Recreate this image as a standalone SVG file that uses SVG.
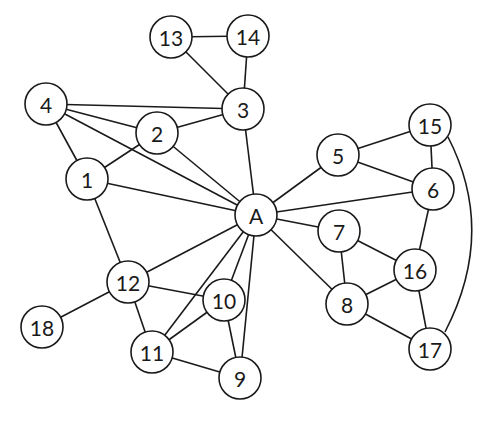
<svg xmlns="http://www.w3.org/2000/svg" width="485" height="425" viewBox="0 0 485 425">
<style>
.e{stroke:#1a1a1a;stroke-width:1.6;fill:none}
.n circle{fill:#fff;stroke:#1a1a1a;stroke-width:1.6}
.n text{font-family:Lato,"Open Sans",sans-serif;font-size:21px;fill:#1a1a1a;text-anchor:middle;dominant-baseline:central}
</style>
<rect width="485" height="425" fill="#fff"/>
<g id="connectors">
<line class="e" x1="171" y1="37" x2="248" y2="36"/>
<line class="e" x1="171" y1="37" x2="243" y2="109"/>
<line class="e" x1="248" y1="36" x2="243" y2="109"/>
<line class="e" x1="46" y1="104" x2="243" y2="109"/>
<line class="e" x1="46" y1="104" x2="157" y2="133"/>
<line class="e" x1="46" y1="104" x2="256" y2="215"/>
<line class="e" x1="46" y1="104" x2="87" y2="179"/>
<line class="e" x1="157" y1="133" x2="243" y2="109"/>
<line class="e" x1="157" y1="133" x2="87" y2="179"/>
<line class="e" x1="157" y1="133" x2="256" y2="215"/>
<line class="e" x1="87" y1="179" x2="256" y2="215"/>
<line class="e" x1="87" y1="179" x2="128" y2="282"/>
<line class="e" x1="243" y1="109" x2="256" y2="215"/>
<line class="e" x1="256" y1="215" x2="338" y2="155"/>
<line class="e" x1="256" y1="215" x2="433" y2="189"/>
<line class="e" x1="256" y1="215" x2="339" y2="231"/>
<line class="e" x1="256" y1="215" x2="347" y2="304"/>
<line class="e" x1="256" y1="215" x2="128" y2="282"/>
<line class="e" x1="256" y1="215" x2="152" y2="352"/>
<line class="e" x1="256" y1="215" x2="224" y2="300"/>
<line class="e" x1="256" y1="215" x2="240" y2="378"/>
<line class="e" x1="338" y1="155" x2="430" y2="125"/>
<line class="e" x1="338" y1="155" x2="433" y2="189"/>
<line class="e" x1="430" y1="125" x2="433" y2="189"/>
<path class="e" d="M448,137 Q497,232 445,332"/>
<line class="e" x1="433" y1="189" x2="415" y2="270"/>
<line class="e" x1="339" y1="231" x2="415" y2="270"/>
<line class="e" x1="339" y1="231" x2="347" y2="304"/>
<line class="e" x1="415" y1="270" x2="347" y2="304"/>
<line class="e" x1="415" y1="270" x2="430" y2="349"/>
<line class="e" x1="347" y1="304" x2="430" y2="349"/>
<line class="e" x1="128" y1="282" x2="42" y2="327"/>
<line class="e" x1="128" y1="282" x2="224" y2="300"/>
<line class="e" x1="128" y1="282" x2="152" y2="352"/>
<line class="e" x1="224" y1="300" x2="152" y2="352"/>
<line class="e" x1="224" y1="300" x2="240" y2="378"/>
<line class="e" x1="152" y1="352" x2="240" y2="378"/>
</g>
<g id="n13" class="n"><circle cx="171" cy="37" r="21"/><text x="171" y="37">13</text></g>
<g id="n14" class="n"><circle cx="248" cy="36" r="21"/><text x="248" y="36">14</text></g>
<g id="n4" class="n"><circle cx="46" cy="104" r="21"/><text x="46" y="104">4</text></g>
<g id="n3" class="n"><circle cx="243" cy="109" r="21"/><text x="243" y="109">3</text></g>
<g id="n2" class="n"><circle cx="157" cy="133" r="21"/><text x="157" y="133">2</text></g>
<g id="n1" class="n"><circle cx="87" cy="179" r="21"/><text x="87" y="179">1</text></g>
<g id="nA" class="n"><circle cx="256" cy="215" r="21"/><text x="256" y="215">A</text></g>
<g id="n5" class="n"><circle cx="338" cy="155" r="21"/><text x="338" y="155">5</text></g>
<g id="n15" class="n"><circle cx="430" cy="125" r="21"/><text x="430" y="125">15</text></g>
<g id="n6" class="n"><circle cx="433" cy="189" r="21"/><text x="433" y="189">6</text></g>
<g id="n7" class="n"><circle cx="339" cy="231" r="21"/><text x="339" y="231">7</text></g>
<g id="n16" class="n"><circle cx="415" cy="270" r="21"/><text x="415" y="270">16</text></g>
<g id="n8" class="n"><circle cx="347" cy="304" r="21"/><text x="347" y="304">8</text></g>
<g id="n17" class="n"><circle cx="430" cy="349" r="21"/><text x="430" y="349">17</text></g>
<g id="n12" class="n"><circle cx="128" cy="282" r="21"/><text x="128" y="282">12</text></g>
<g id="n10" class="n"><circle cx="224" cy="300" r="21"/><text x="224" y="300">10</text></g>
<g id="n18" class="n"><circle cx="42" cy="327" r="21"/><text x="42" y="327">18</text></g>
<g id="n11" class="n"><circle cx="152" cy="352" r="21"/><text x="152" y="352">11</text></g>
<g id="n9" class="n"><circle cx="240" cy="378" r="21"/><text x="240" y="378">9</text></g>
</svg>
